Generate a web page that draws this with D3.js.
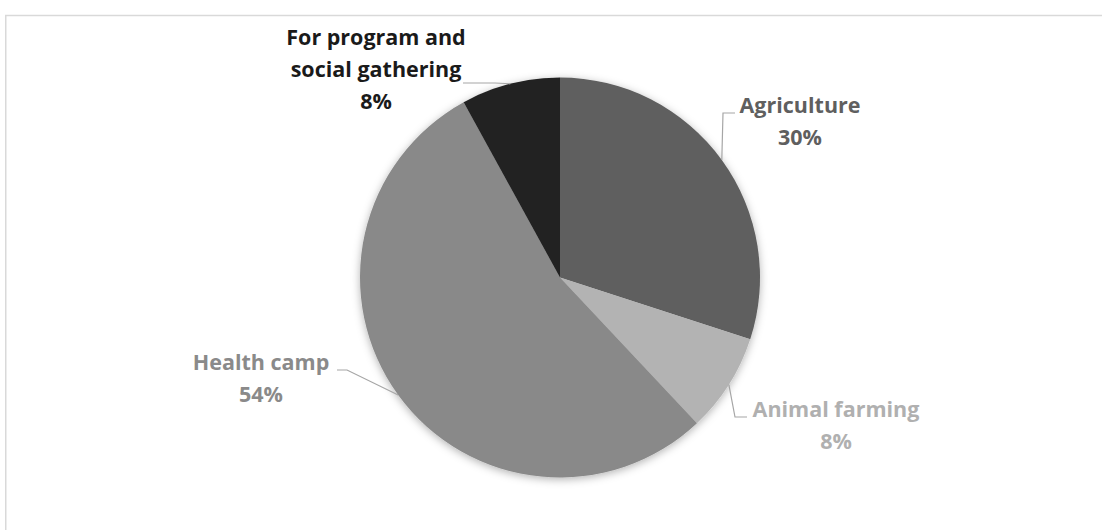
<!DOCTYPE html>
<html>
<head>
<meta charset="utf-8">
<script src="https://cdn.jsdelivr.net/npm/d3@7"></script>
<style>
  html, body { margin: 0; padding: 0; background: #ffffff; }
  svg { display: block; }
  .lbl { font-family: "Open Sans", sans-serif; font-weight: 700; font-size: 21.5px; }
</style>
</head>
<body>
<svg id="chart" width="1102" height="530"></svg>
<script>
// Share of activities (percent), drawn clockwise from 12 o'clock
const categories = ["Agriculture", "Animal farming", "Health camp", "For program and social gathering"];
const values = [30, 8, 54, 8];
const labelLines = [["Agriculture"], ["Animal farming"], ["Health camp"], ["For program and", "social gathering"]];
const percentLabels = ["30%", "8%", "54%", "8%"];
const sliceColors = ["#5f5f5f", "#b3b3b3", "#898989", "#222222"];
const textColors = ["#5f5f5f", "#b0b0b0", "#8a8a8a", "#1a1a1a"];

const svg = d3.select("#chart");
const W = 1102, H = 530;
const cx = 560, cy = 277.5, R = 200;

// chart frame
svg.append("rect")
  .attr("x", 5.75).attr("y", 15.5)
  .attr("width", W + 10).attr("height", H + 10)
  .attr("fill", "none").attr("stroke", "#d9d9d9").attr("stroke-width", 1.5);

const defs = svg.append("defs");
const f = defs.append("filter").attr("id", "pieShadow")
  .attr("x", "-20%").attr("y", "-20%").attr("width", "140%").attr("height", "140%");
f.append("feDropShadow").attr("dx", 0).attr("dy", 2).attr("stdDeviation", 4)
  .attr("flood-color", "#000").attr("flood-opacity", 0.3);

const data = categories.map((c, i) => ({ name: c, value: values[i], i }));
const pie = d3.pie().value(d => d.value).sort(null);
const arcs = pie(data);
const arc = d3.arc().innerRadius(0).outerRadius(R);

const g = svg.append("g").attr("transform", `translate(${cx},${cy})`);
g.append("g").attr("filter", "url(#pieShadow)")
  .selectAll("path").data(arcs).join("path")
  .attr("d", arc)
  .attr("fill", d => sliceColors[d.data.i]);

// point on the rim at a slice's middle angle
function rim(d) {
  const a = (d.startAngle + d.endAngle) / 2;
  return [R * Math.sin(a), -R * Math.cos(a)];
}

// label anchors and leader elbows, relative to the centre
const labelPos = [
  { x: 240, y: -164.5, elbow: [[163, -164.5], [175, -164.5]] },
  { x: 276, y: 139.5, elbow: [[175, 139.5], [187, 139.5]] },
  { x: -299, y: 92.5, elbow: [[-213, 92.5], [-223, 92.5]] },
  { x: -184, y: -233, elbow: [[-65, -194.5], [-97, -194.5]] }
];
const lineGap = 32;

arcs.forEach(d => {
  const i = d.data.i;
  const p = rim(d);
  const lp = labelPos[i];
  const pts = [p, lp.elbow[0], lp.elbow[1]];
  g.append("path")
    .attr("d", d3.line()(pts))
    .attr("fill", "none").attr("stroke", "#a6a6a6").attr("stroke-width", 1.2);

  const t = g.append("text").attr("class", "lbl")
    .attr("text-anchor", "middle").attr("fill", textColors[i]);
  const lines = labelLines[i].concat([percentLabels[i]]);
  lines.forEach((s, k) => {
    t.append("tspan").attr("x", lp.x).attr("y", lp.y + k * lineGap).text(s);
  });
});
</script>
</body>
</html>
